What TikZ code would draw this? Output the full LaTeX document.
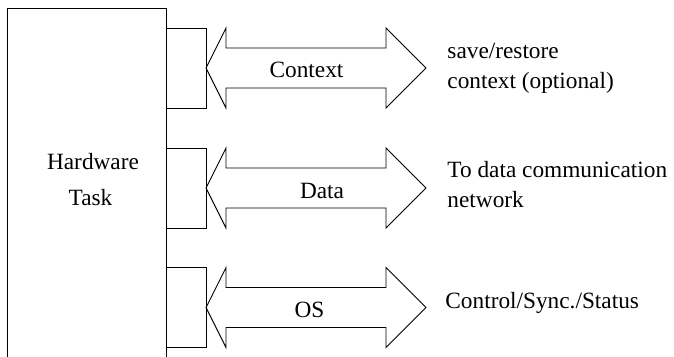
\documentclass[tikz,border=0pt]{standalone}
\usepackage{fontspec}
\setmainfont{Liberation Serif}
\begin{document}
\begin{tikzpicture}[x=1pt,y=-1pt,
  line width=0.9pt, line join=miter,
  every node/.style={inner sep=0pt, font=\fontsize{23.3}{30}\selectfont},
  port/.style={draw},
  bus/.style={draw},
  lbl/.style={anchor=base},
  note/.style={anchor=base west, align=left}]
\useasboundingbox (0,0) rectangle (674,356);

% hardware task block, open towards the bottom
\draw (7,357) -- (7,8) -- (166,8) -- (166,357);
\node[lbl] (hw1) at (93,169) {Hardware};
\node[lbl] (hw2) at (90.5,205) {Task};

% one interface: port box, double-headed bus arrow and its label
% #1 centre line, #2 name, #3 label x, #4 label baseline
\newcommand{\iface}[4]{%
  \node[port, minimum width=40pt, minimum height=80pt, anchor=west] (p#2) at (166,#1) {};
  \coordinate (t#2) at (206,#1);
  \draw[bus] (t#2) -- ++(20,-40) -- ++(0,20) -- ++(160,0) -- ++(0,-20)
    -- (426,#1) -- ++(-40,40) -- ++(0,-20) -- ++(-160,0) -- ++(0,20) -- cycle;
  \node[lbl] (l#2) at (#3,#4) {#2};
}

\iface{68}{Context}{306.5}{77}
\iface{188}{Data}{322}{198}
\iface{307.5}{OS}{309.5}{317}

% descriptions (anchored at the baseline of their last line)
\node[note] (n1) at (447,88) {save/restore\\context (optional)};
\node[note] (n2) at (447,207) {To data communication\\network};
\node[note] (n3) at (445,308) {Control/Sync./Status};
\end{tikzpicture}
\end{document}
